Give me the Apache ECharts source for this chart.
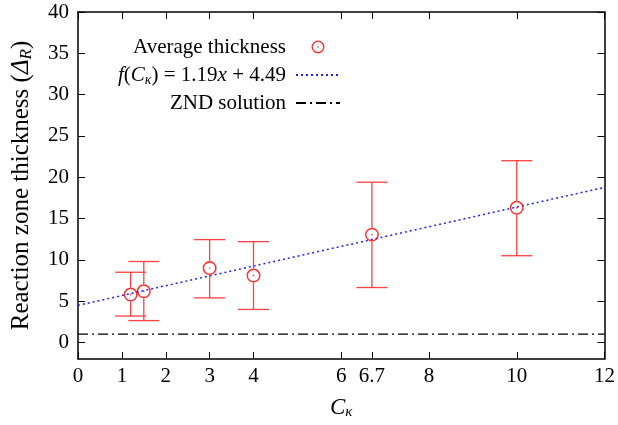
<!DOCTYPE html>
<html>
<head>
<meta charset="utf-8">
<script src="https://cdn.jsdelivr.net/npm/echarts@6/dist/echarts.min.js"></script>
<style>
    html, body { margin: 0; padding: 0; background: #fff; }
    #chart { width: 618px; height: 425px; }
</style>
</head>
<body>
<div id="chart"></div>
<script>
// measured values
var ckValues = [1.2, 1.5, 3, 4, 6.7, 10];
var avgThickness = [5.8, 6.2, 9.0, 8.1, 13.05, 16.3];
var errLow = [3.2, 2.65, 5.4, 4.0, 6.65, 10.5];
var errHigh = [8.5, 9.8, 12.45, 12.2, 19.4, 22.0];

var fitX = [0, 12];
var fitY = [4.49, 18.77];

var zndX = [0, 12];
var zndY = [1, 1];

var xTicks = [0, 1, 2, 3, 4, 6, 6.7, 8, 10, 12];
var yTicks = [0, 5, 10, 15, 20, 25, 30, 35, 40];

var FONT = "'Liberation Serif', 'DejaVu Serif', serif";

var legendNames = {
    'Average thickness': 'Average thickness',
    'fit': '{it|f}({it|C}{sub|κ}) = 1.19{it|x} + 4.49',
    'ZND solution': 'ZND solution'
};

// ring with a dot in the middle, like gnuplot's point type
var ringDot = 'path://M0,-6A6,6 0 1,1 0,6A6,6 0 1,1 0,-6Z' +
    'M0,-4.7A4.7,4.7 0 1,0 0,4.7A4.7,4.7 0 1,0 0,-4.7Z' +
    'M-0.6,-0.6L0.6,-0.6L0.6,0.6L-0.6,0.6Z';

var errData = ckValues.map(function (x, i) {
    return [x, avgThickness[i], errLow[i], errHigh[i]];
});
var pointData = ckValues.map(function (x, i) {
    return [x, avgThickness[i]];
});

function renderErrorBar(params, api) {
    var mid = api.coord([api.value(0), api.value(1)]);
    var lo = api.coord([api.value(0), api.value(2)]);
    var hi = api.coord([api.value(0), api.value(3)]);
    var cap = 15.5;
    var r = 7;
    var style = { stroke: '#ff4040', lineWidth: 1.3 };
    return {
        type: 'group',
        children: [
            { type: 'line', shape: { x1: lo[0], y1: lo[1], x2: mid[0], y2: mid[1] + r }, style: style },
            { type: 'line', shape: { x1: hi[0], y1: hi[1], x2: mid[0], y2: mid[1] - r }, style: style },
            { type: 'line', shape: { x1: lo[0] - cap, y1: lo[1], x2: lo[0] + cap, y2: lo[1] }, style: style },
            { type: 'line', shape: { x1: hi[0] - cap, y1: hi[1], x2: hi[0] + cap, y2: hi[1] }, style: style }
        ]
    };
}

var axisLineStyle = { color: '#000', width: 1.5 };
var tickStyle = { color: '#000', width: 1 };
var labelStyle = { fontFamily: FONT, fontSize: 21, color: '#000' };

var chart = echarts.init(document.getElementById('chart'));
chart.setOption({
    animation: false,
    backgroundColor: '#fff',
    textStyle: { fontFamily: FONT },
    grid: { left: 78, right: 7, top: 12, bottom: 64 },
    legend: {
        orient: 'vertical',
        align: 'right',
        right: 272,
        top: 30,
        itemWidth: 44,
        itemHeight: 13,
        itemGap: 4,
        data: [
            { name: 'Average thickness' },
            { name: 'fit', itemStyle: { opacity: 0 } },
            { name: 'ZND solution', itemStyle: { opacity: 0 } }
        ],
        formatter: function (name) { return legendNames[name]; },
        textStyle: {
            fontFamily: FONT,
            fontSize: 21,
            color: '#000',
            lineHeight: 24,
            padding: [0, 5, 0, 0],
            rich: {
                it: { fontFamily: FONT, fontSize: 21, fontStyle: 'italic', lineHeight: 24 },
                sub: { fontFamily: FONT, fontSize: 14, fontStyle: 'italic', lineHeight: 14, verticalAlign: 'bottom' }
            }
        }
    },
    xAxis: [{
        type: 'value',
        min: 0,
        max: 12,
        name: '{it|C}{sub|κ}',
        nameLocation: 'middle',
        nameGap: 37,
        nameTextStyle: {
            fontFamily: FONT,
            fontSize: 23,
            color: '#000',
            rich: {
                it: { fontFamily: FONT, fontSize: 23, fontStyle: 'italic', lineHeight: 24 },
                sub: { fontFamily: FONT, fontSize: 15, fontStyle: 'italic', lineHeight: 14, verticalAlign: 'bottom' }
            }
        },
        axisLine: { onZero: false, lineStyle: axisLineStyle },
        axisTick: { inside: true, length: 7, customValues: xTicks, lineStyle: tickStyle },
        axisLabel: Object.assign({ customValues: xTicks, margin: 7 }, labelStyle),
        splitLine: { show: false }
    }, {
        type: 'value',
        position: 'top',
        min: 0,
        max: 12,
        axisLine: { show: true, onZero: false, lineStyle: axisLineStyle },
        axisTick: { show: true, inside: true, length: 7, customValues: xTicks, lineStyle: tickStyle },
        axisLabel: { show: false },
        splitLine: { show: false }
    }],
    yAxis: [{
        type: 'value',
        min: -2,
        max: 40,
        name: 'Reaction zone thickness ({d|Δ}{s|R})',
        nameLocation: 'middle',
        nameGap: 43,
        nameTextStyle: {
            fontFamily: FONT,
            fontSize: 25,
            color: '#000',
            rich: {
                d: { fontFamily: FONT, fontSize: 25, fontStyle: 'italic', lineHeight: 28 },
                s: { fontFamily: FONT, fontSize: 17, fontStyle: 'italic', lineHeight: 16, verticalAlign: 'bottom' }
            }
        },
        axisLine: { show: true, onZero: false, lineStyle: axisLineStyle },
        axisTick: { show: true, inside: true, length: 7, customValues: yTicks, lineStyle: tickStyle },
        axisLabel: Object.assign({ customValues: yTicks, margin: 9 }, labelStyle),
        splitLine: { show: false }
    }, {
        type: 'value',
        position: 'right',
        min: -2,
        max: 40,
        axisLine: { show: true, onZero: false, lineStyle: axisLineStyle },
        axisTick: { show: true, inside: true, length: 7, customValues: yTicks, lineStyle: tickStyle },
        axisLabel: { show: false },
        splitLine: { show: false }
    }],
    series: [{
        name: 'fit',
        type: 'line',
        data: fitX.map(function (x, i) { return [x, fitY[i]]; }),
        symbol: 'none',
        lineStyle: { color: '#1f1fff', width: 1.5, type: [2, 3] },
        itemStyle: { color: '#1f1fff', opacity: 0 },
        z: 2
    }, {
        name: 'ZND solution',
        type: 'line',
        data: zndX.map(function (x, i) { return [x, zndY[i]]; }),
        symbol: 'none',
        lineStyle: { color: '#000', width: 1.3, type: [10, 4, 2, 4] },
        itemStyle: { color: '#000', opacity: 0 },
        z: 2
    }, {
        name: 'errorbars',
        type: 'custom',
        renderItem: renderErrorBar,
        data: errData,
        encode: { x: 0, y: 1 },
        z: 3
    }, {
        name: 'Average thickness',
        type: 'scatter',
        data: pointData,
        symbol: ringDot,
        symbolSize: 14,
        itemStyle: { color: '#ff0000' },
        z: 4
    }]
});
</script>
</body>
</html>
